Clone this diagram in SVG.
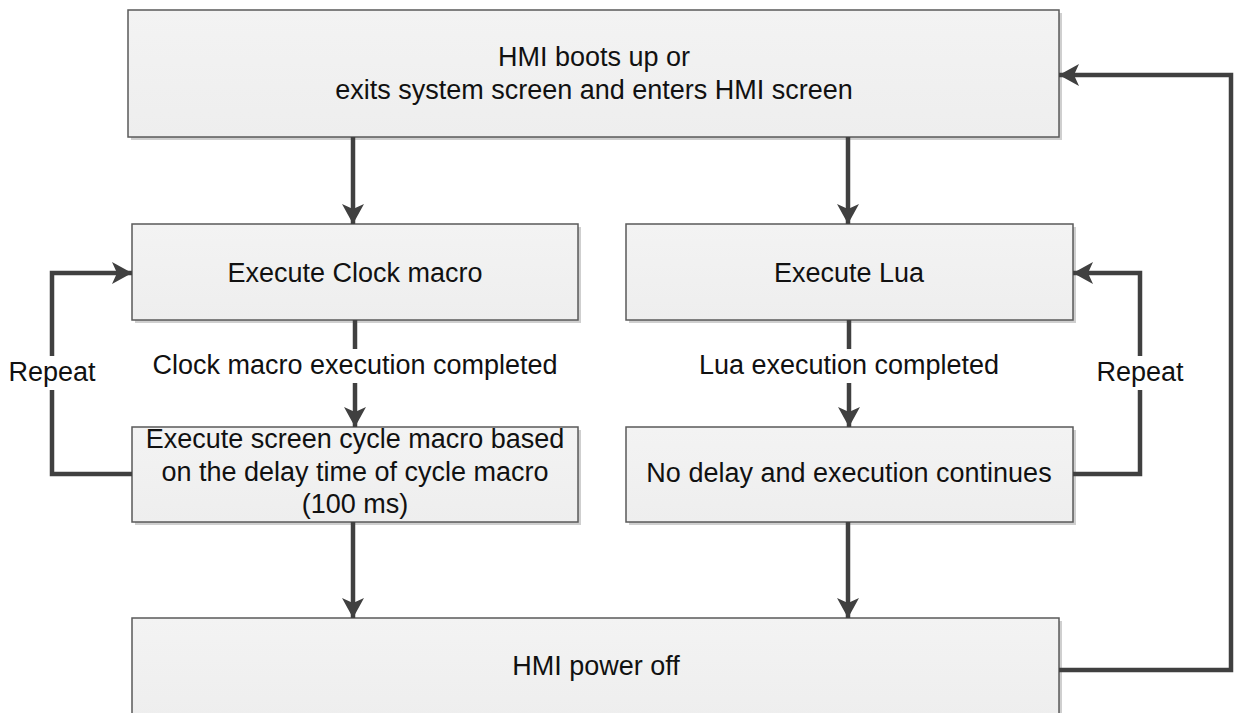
<svg xmlns="http://www.w3.org/2000/svg" width="1234" height="713" viewBox="0 0 1234 713">
<defs>
<linearGradient id="g" x1="0" y1="0" x2="0" y2="1">
<stop offset="0" stop-color="#f3f3f3"/>
<stop offset="1" stop-color="#eeeeee"/>
</linearGradient>
<marker id="arr" markerUnits="userSpaceOnUse" markerWidth="22" markerHeight="22" viewBox="0 0 20 22" refX="20" refY="11" orient="auto">
<path d="M0,0 L20,11 L0,22 L5,11 Z" fill="#404040"/>
</marker>
</defs>
<style>
.box{fill:url(#g);stroke:#5a5a5a;stroke-width:1.5}
.sh{fill:#cfcfcf}
.t{font-family:"Liberation Sans",Arial,sans-serif;font-size:27px;fill:#111;text-anchor:middle}
.c{fill:none;stroke:#404040;stroke-width:4.5}
</style>
<rect width="1234" height="713" fill="#fff"/>
<g id="n1">
<rect class="sh" x="131" y="13" width="931" height="127"/>
<rect class="box" x="128" y="10" width="931" height="127"/>
<text class="t" x="594" y="66">HMI boots up or</text>
<text class="t" x="594" y="99">exits system screen and enters HMI screen</text>
</g>
<g id="n2">
<rect class="sh" x="135" y="227" width="446" height="96"/>
<rect class="box" x="132" y="224" width="446" height="96"/>
<text class="t" x="355" y="282">Execute Clock macro</text>
</g>
<g id="n3">
<rect class="sh" x="629" y="227" width="447" height="96"/>
<rect class="box" x="626" y="224" width="447" height="96"/>
<text class="t" x="849" y="282">Execute Lua</text>
</g>
<g id="n4">
<rect class="sh" x="135" y="430" width="446" height="95"/>
<rect class="box" x="132" y="427" width="446" height="95"/>
<text class="t" x="355" y="448">Execute screen cycle macro based</text>
<text class="t" x="355" y="481">on the delay time of cycle macro</text>
<text class="t" x="355" y="513">(100 ms)</text>
</g>
<g id="n5">
<rect class="sh" x="629" y="430" width="447" height="95"/>
<rect class="box" x="626" y="427" width="447" height="95"/>
<text class="t" x="849" y="482">No delay and execution continues</text>
</g>
<g id="n6">
<rect class="sh" x="135" y="621" width="927" height="100"/>
<rect class="box" x="132" y="618" width="927" height="100"/>
<text class="t" x="596" y="675">HMI power off</text>
</g>
<g id="connectors">
<line class="c" x1="353" y1="137" x2="353" y2="224" marker-end="url(#arr)"/>
<line class="c" x1="848" y1="137" x2="848" y2="224" marker-end="url(#arr)"/>
<line class="c" x1="355" y1="320" x2="355" y2="349"/>
<line class="c" x1="355" y1="383" x2="355" y2="427" marker-end="url(#arr)"/>
<text class="t" x="355" y="374">Clock macro execution completed</text>
<line class="c" x1="849" y1="320" x2="849" y2="349"/>
<line class="c" x1="849" y1="383" x2="849" y2="427" marker-end="url(#arr)"/>
<text class="t" x="849" y="374">Lua execution completed</text>
<line class="c" x1="353" y1="522" x2="353" y2="618" marker-end="url(#arr)"/>
<line class="c" x1="848" y1="522" x2="848" y2="618" marker-end="url(#arr)"/>
<path class="c" d="M132,474 H52 V390"/>
<path class="c" d="M52,356 V273 H132" marker-end="url(#arr)"/>
<text class="t" x="52" y="381">Repeat</text>
<path class="c" d="M1073,474 H1140 V390"/>
<path class="c" d="M1140,356 V273 H1073" marker-end="url(#arr)"/>
<text class="t" x="1140" y="381">Repeat</text>
<path class="c" d="M1059,670 H1231 V75 H1059" marker-end="url(#arr)"/>
</g>
</svg>
